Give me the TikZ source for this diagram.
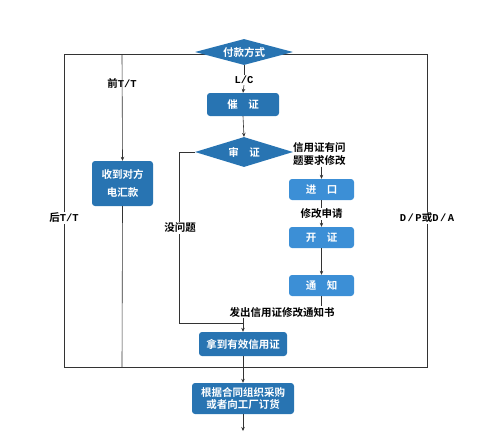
\documentclass[tikz,border=0pt]{standalone}
\usepackage{fontspec}
\newfontfamily\cjk{Noto Sans CJK SC}[BoldFont={Noto Sans CJK SC Bold}]
\newfontfamily\lat{Liberation Mono}
\usetikzlibrary{shapes.geometric,arrows.meta}
\definecolor{dkb}{HTML}{2874B2}
\definecolor{ltb}{HTML}{3C8FD6}
\tikzset{
  box/.style={rectangle,rounded corners=3pt,fill=dkb,text=white,font=\cjk\bfseries\fontsize{10.5}{12}\selectfont,inner sep=0pt,align=center},
  lbox/.style={box,fill=ltb},
  dia/.style={diamond,aspect=3.5,fill=dkb,text=white,font=\cjk\bfseries\fontsize{10.5}{12}\selectfont,inner sep=0pt},
  lab/.style={font=\cjk\bfseries\fontsize{10.5}{13}\selectfont,inner sep=1pt,align=center},
  wlab/.style={lab,fill=white},
  ln/.style={draw=black!80,line width=0.6pt},
  arr/.style={ln,-{Stealth[length=4pt,width=3.5pt]}}
}
\newcommand{\lt}[1]{{\lat\bfseries #1}}
\begin{document}
\begin{tikzpicture}[x=1pt,y=-1pt]
\useasboundingbox (0,0) rectangle (495,437);
% outer frame
\coordinate (tl) at (64,54);
\coordinate (tr) at (427,54);
\coordinate (bl) at (64,367);
\coordinate (br) at (427,367);
\draw[ln] (bl) -- (tl) -- (tr) -- (br) -- cycle;
\node[dia,minimum width=98pt,minimum height=26pt] (pay) at (244,52) {付款方式};
\node[box,minimum width=72pt,minimum height=23pt] (cz) at (243,104.5) {催\hspace{1em}证};
\node[dia,minimum width=98pt,minimum height=30pt] (sz) at (244,152) {审\hspace{1em}证};
\node[box,minimum width=61pt,minimum height=45pt,font=\cjk\bfseries\fontsize{10.5}{18}\selectfont] (sd) at (122.5,183.5) {收到对方\\电汇款};
\node[lbox,minimum width=65pt,minimum height=21pt] (jk) at (321.5,189.5) {进\hspace{1em}口};
\node[lbox,minimum width=65pt,minimum height=21pt] (kz) at (321.5,237.5) {开\hspace{1em}证};
\node[lbox,minimum width=65pt,minimum height=21pt] (tz) at (321.5,285.5) {通\hspace{1em}知};
\node[box,minimum width=88pt,minimum height=24pt] (nd) at (243,344) {拿到有效信用证};
\node[box,minimum width=102pt,minimum height=31pt,font=\cjk\bfseries\fontsize{10.5}{11.5}\selectfont] (gj) at (243,398.5) {根据合同组织采购\\或者向工厂订货};
% labels
\node[lab] (qtt) at (122,83) {前\lt{T/T}};
\node[lab] (lc) at (244,80) {\lt{L/C}};
\node[lab,anchor=west] (wt) at (292,154) {信用证有问\\题要求修改};
\node[wlab] (mw) at (180,228) {没问题};
\node[wlab] (xg) at (321.5,214) {修改申请};
\node[lab] (fc) at (282,312) {发出信用证修改通知书};
\node[wlab] (htt) at (64,218) {后\lt{T/T}};
\node[wlab] (dp) at (427,218) {\lt{D\kern1.5pt/\kern1.5pt P}或\lt{D\kern1.5pt/\kern1.5pt A}};
\coordinate (j1) at (122,54);
\coordinate (m1) at (179,152);
\coordinate (m2) at (179,323);
\coordinate (m3) at (243,323);
\coordinate (b1) at (122,367);
\coordinate (end) at (243,431);
% connectors
\draw[arr] (j1) -- (sd.north);
\draw[ln] (sd.south) -- (b1);
\draw[ln] (pay.south) -- (lc.north);
\draw[arr] (lc.south) -- (cz.north);
\draw[arr] (cz.south) -- (sz.north);
\draw[ln] (sz.west) -- (m1) -- (m2) -- (m3);
\draw[arr] (wt.south -| jk.north) -- (jk.north);
\draw[arr] (jk.south) -- (kz.north);
\draw[arr] (kz.south) -- (tz.north);
\draw[ln] (tz.south) -- (tz.south |- fc.north);
\draw[arr] (fc.south -| nd.north) -- (nd.north);
\draw[arr] (nd.south) -- (gj.north);
\draw[arr] (gj.south) -- (end);
\node[wlab] at (mw) {没问题};
\node[wlab] at (xg) {修改申请};
\node[wlab] at (htt) {后\lt{T/T}};
\node[wlab] at (dp) {\lt{D\kern1.5pt/\kern1.5pt P}或\lt{D\kern1.5pt/\kern1.5pt A}};
\end{tikzpicture}
\end{document}
